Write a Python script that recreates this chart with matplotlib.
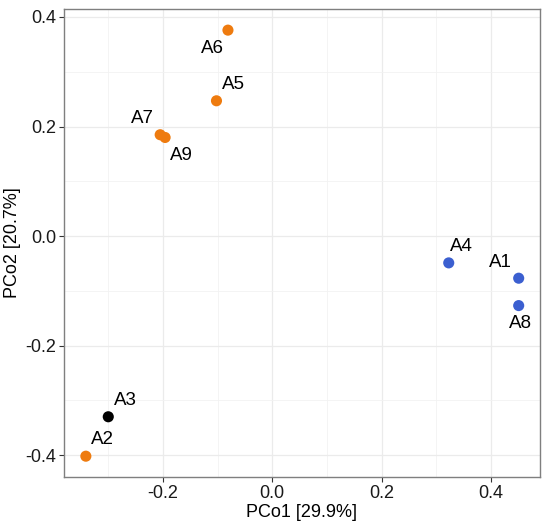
import matplotlib
matplotlib.use("Agg")
import matplotlib.pyplot as plt
from matplotlib.ticker import MultipleLocator

# sample coordinates
samples = ["A1", "A2", "A3", "A4", "A5", "A6", "A7", "A8", "A9"]
pco1 = [0.451, -0.341, -0.300, 0.323, -0.102, -0.081, -0.205, 0.451, -0.196]
pco2 = [-0.077, -0.402, -0.330, -0.049, 0.247, 0.376, 0.185, -0.127, 0.180]
groups = ["blue", "orange", "black", "blue", "orange", "orange", "orange", "blue", "orange"]

palette = {"orange": "#EE7B0F", "blue": "#3B5FD0", "black": "#000000"}

# label offsets (points), repel-style
label_offsets = {
    "A1": (-13, 11), "A2": (12, 12), "A3": (12, 12), "A4": (9, 12),
    "A5": (12, 12), "A6": (-11, -13), "A7": (-13, 12), "A8": (1, -13),
    "A9": (12, -13),
}

plt.rcParams["font.family"] = ["Liberation Sans", "DejaVu Sans"]

fig = plt.figure(figsize=(5.5, 5.26), dpi=100)
ax = fig.add_axes([64 / 550, 1 - 477 / 526, 476 / 550, 468 / 526])

ax.set_xlim(-0.381, 0.490)
ax.set_ylim(-0.440, 0.4146)

ax.xaxis.set_major_locator(MultipleLocator(0.2))
ax.yaxis.set_major_locator(MultipleLocator(0.2))
ax.xaxis.set_minor_locator(MultipleLocator(0.1))
ax.yaxis.set_minor_locator(MultipleLocator(0.1))
ax.grid(which="major", color="#EBEBEB", linewidth=0.9, zorder=0)
ax.grid(which="minor", color="#F2F2F2", linewidth=0.6, zorder=0)
ax.set_axisbelow(True)
ax.tick_params(which="minor", length=0)
ax.tick_params(which="major", length=3.5, color="#333333", width=0.8,
               labelsize=13, labelcolor="#1a1a1a", pad=2)

ax.xaxis.set_major_formatter(matplotlib.ticker.FuncFormatter(lambda v, p: f"{v:.1f}"))
ax.yaxis.set_major_formatter(matplotlib.ticker.FuncFormatter(lambda v, p: f"{v:.1f}"))

for s in ax.spines.values():
    s.set_color("#7F7F7F")
    s.set_linewidth(1.0)

for name, x, y, g in zip(samples, pco1, pco2, groups):
    ax.scatter(x, y, s=64, color=palette[g], edgecolors="none", zorder=3)
    dx, dy = label_offsets[name]
    ax.annotate(name, (x, y), xytext=(dx, dy), textcoords="offset points",
                ha="center", va="center", fontsize=13.5, color="black", zorder=4)

ax.set_xlabel("PCo1 [29.9%]", fontsize=13, labelpad=2)
ax.set_ylabel("PCo2 [20.7%]", fontsize=13, labelpad=3)

fig.savefig("out.png", dpi=100)
